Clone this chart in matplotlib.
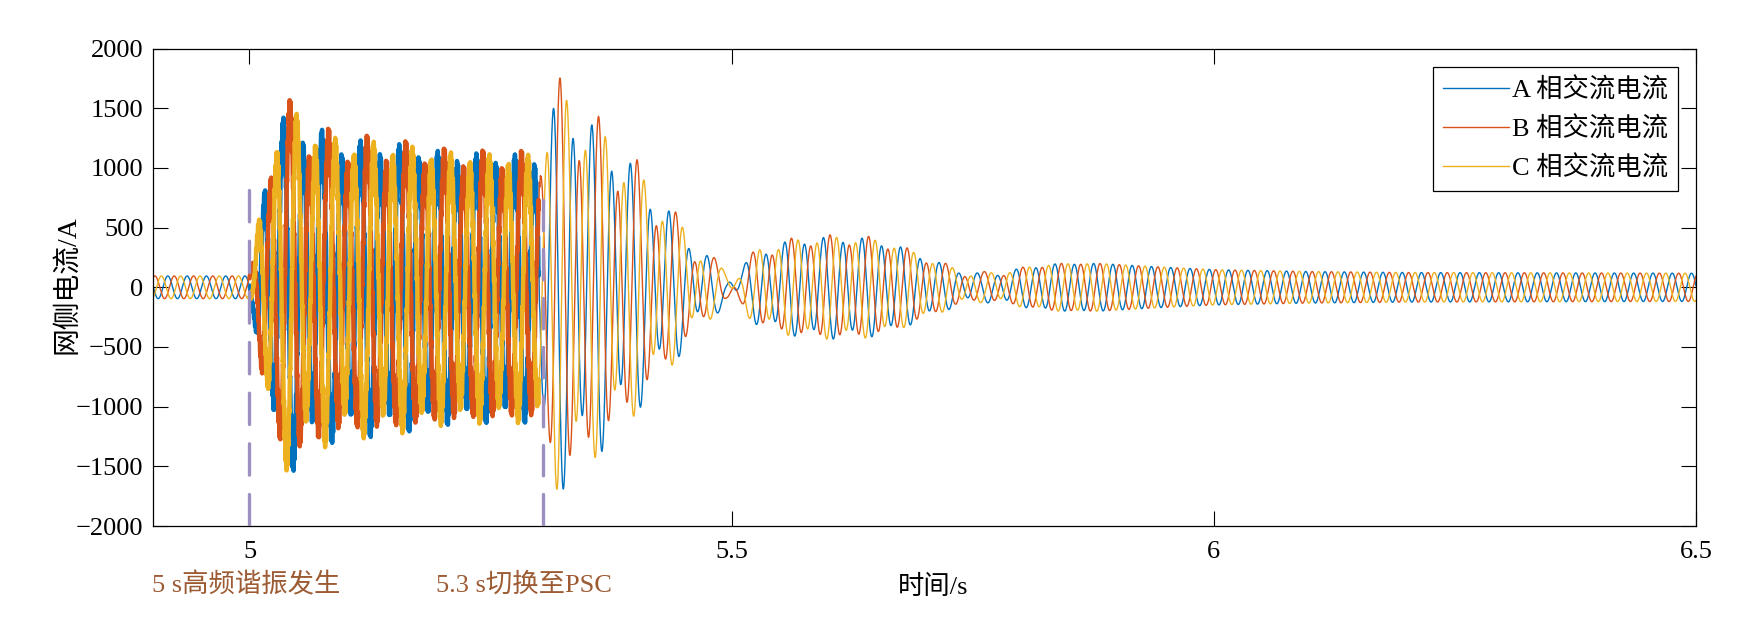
import numpy as np
import matplotlib
matplotlib.use('Agg')
from matplotlib import pyplot as plt

plt.rcParams['font.family'] = ['Liberation Serif', 'Noto Sans CJK SC', 'DejaVu Sans']
plt.rcParams['axes.unicode_minus'] = True

# envelope key points (time in s, amplitudes in A)
t_key = [4.9, 5.0, 5.005, 5.015, 5.025, 5.04, 5.065, 5.08, 5.1, 5.15, 5.2, 5.25, 5.3,
         5.302, 5.32, 5.35, 5.38, 5.4, 5.42, 5.44, 5.46, 5.48, 5.495, 5.51, 5.53,
         5.56, 5.6, 5.64, 5.67, 5.7, 5.73, 5.76, 5.79, 5.83, 5.88, 5.94, 6.0,
         6.1, 6.2, 6.5]
amp_50 = [95, 95, 200, 800, 1150, 1250, 1250, 1100, 1100, 1080, 1020, 1000, 990,
          1050, 1500, 1260, 1060, 880, 700, 520, 340, 160, 70, 120, 290,
          370, 400, 390, 340, 240, 145, 90, 135, 190, 200, 172, 148,
          132, 124, 118]
amp_sub = [0, 0, 50, 150, 220, 250, 220, 160, 120, 90, 70, 70, 80,
           120, 270, 260, 240, 210, 170, 130, 110, 100, 100, 90, 60,
           40, 40, 40, 30, 30, 30, 40, 20, 10, 0, 0, 0,
           0, 0, 0]
amp_hf = [0, 0, 30, 60, 80, 80, 80, 80, 80, 80, 80, 80, 80,
          0, 0, 0, 0, 0, 0, 0, 0, 0, 0, 0, 0,
          0, 0, 0, 0, 0, 0, 0, 0, 0, 0, 0, 0,
          0, 0, 0]

labels = ['A 相交流电流', 'B 相交流电流', 'C 相交流电流']
colors = ['#0072BD', '#D95319', '#EDB120']

event_t = [5.0, 5.304]
event_top = [815, 730]
event_dash = [(9.4, 5.8), (9.1, 5.6)]
event_text = ['5 s高频谐振发生', '5.3 s切换至PSC']
event_text_x = [0.0867, 0.2487]

f0 = 50
f_sub = 25
f_hf = 1000
fs = 20000
t = np.arange(4.9, 6.5, 1 / fs)
a1 = np.interp(t, t_key, amp_50)
a2 = np.interp(t, t_key, amp_sub)
a3 = np.interp(t, t_key, amp_hf)

fig = plt.figure(figsize=(17.53, 6.19), dpi=100)
ax = fig.add_axes([0.0873, 0.1502, 0.8802, 0.7713])

hf = (t >= 5.0) & (t <= 5.3)
handles = []
for k in range(3):
    sh = k * 2 * np.pi / 3
    i = (a1 * np.sin(2 * np.pi * f0 * t - sh + 3.04)
         + a2 * np.sin(2 * np.pi * f_sub * t - sh + 3.35)
         + a3 * np.sin(2 * np.pi * f_hf * t - sh))
    h, = ax.plot(t, i, color=colors[k], lw=1.0, label=labels[k])
    ax.plot(t[hf], i[hf], color=colors[k], lw=3.2)
    handles.append(h)

# dashed event markers, drawn from the top down
for x, top, d in zip(event_t, event_top, event_dash):
    ax.plot([x, x], [top, -2000], color='#9D8FC0', lw=2.4, dashes=d,
            dash_capstyle='round', zorder=5)

for s, x in zip(event_text, event_text_x):
    fig.text(x, 0.055, s, color='#9C5B33', fontsize=19, va='center', ha='left')

ax.set_xlim(4.9, 6.5)
ax.set_ylim(-2000, 2000)
ax.set_xticks([5, 5.5, 6, 6.5])
ax.set_xticklabels(['5', '5.5', '6', '6.5'])
ax.set_yticks(np.arange(-2000, 2001, 500))
ax.tick_params(direction='in', top=True, right=True, length=11, width=0.8, labelsize=19)
ax.tick_params(axis='x', pad=11)
ax.tick_params(axis='y', pad=7)
for sp in ax.spines.values():
    sp.set_linewidth(0.9)

ax.set_xlabel('时间/s', fontsize=19, va='center')
ax.xaxis.set_label_coords(0.5055, -0.128)
ax.set_ylabel('网侧电流/A', fontsize=20, va='center')
ax.yaxis.set_label_coords(-0.0557, 0.505)

leg = ax.legend(handles=handles, loc='upper right', fontsize=19, handlelength=2.5,
                handletextpad=0.1, labelspacing=0.53, borderpad=0.38, borderaxespad=0,
                fancybox=False, framealpha=1, bbox_to_anchor=(0.9883, 0.9615))
leg.get_frame().set_edgecolor('black')
leg.get_frame().set_linewidth(0.9)

plt.savefig('out.png', dpi=100)
